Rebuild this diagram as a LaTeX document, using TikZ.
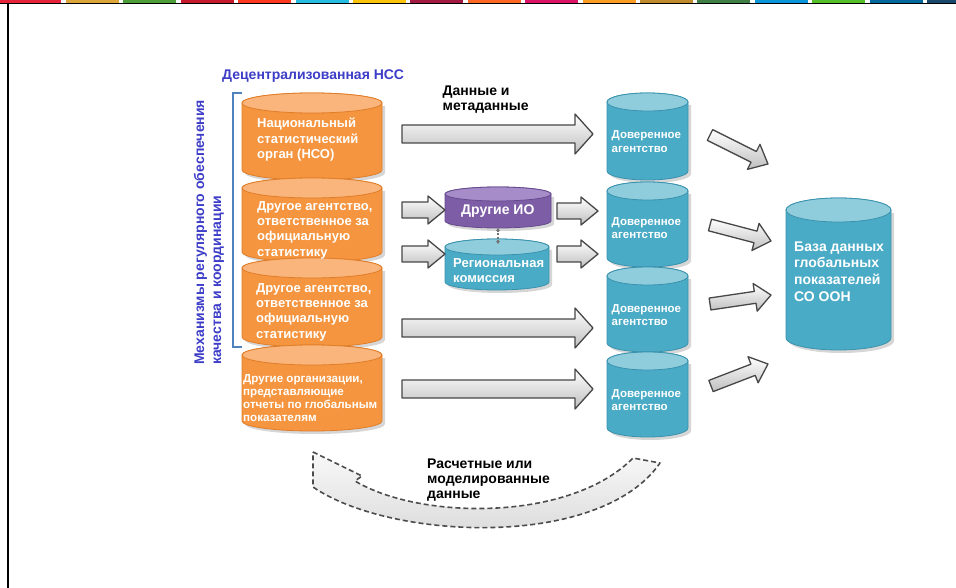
\documentclass[tikz,border=0pt]{standalone}
\usepackage{fontspec}
\setmainfont{Liberation Sans}
\usetikzlibrary{arrows.meta,calc}
\definecolor{sdgA}{HTML}{E5243B}\definecolor{sdgB}{HTML}{DDA63A}\definecolor{sdgC}{HTML}{4C9F38}
\definecolor{sdgD}{HTML}{C5192D}\definecolor{sdgE}{HTML}{FF3A21}\definecolor{sdgF}{HTML}{26BDE2}
\definecolor{sdgG}{HTML}{FCC30B}\definecolor{sdgH}{HTML}{A21942}\definecolor{sdgI}{HTML}{FD6925}
\definecolor{sdgJ}{HTML}{DD1367}\definecolor{sdgK}{HTML}{FD9D24}\definecolor{sdgL}{HTML}{BF8B2E}
\definecolor{sdgM}{HTML}{3F7E44}\definecolor{sdgN}{HTML}{0A97D9}\definecolor{sdgO}{HTML}{56C02B}
\definecolor{sdgP}{HTML}{00689D}\definecolor{sdgQ}{HTML}{19486A}
\definecolor{orb}{HTML}{F5953F}\definecolor{ort}{HTML}{F9B57C}\definecolor{orl}{HTML}{E07D28}
\definecolor{teb}{HTML}{4AABC6}\definecolor{tet}{HTML}{8FCDDD}\definecolor{tel}{HTML}{3A92AD}
\definecolor{pub}{HTML}{7E5DA7}\definecolor{put}{HTML}{A68CC8}\definecolor{pul}{HTML}{664A8E}
\definecolor{ttl}{HTML}{3D3DC8}\definecolor{brk}{HTML}{4F81BD}
\newcommand\dbcyl[8]{%
 \pgfmathsetmacro\cxl{#1}\pgfmathsetmacro\cxr{#2}%
 \pgfmathsetmacro\crx{((#2)-(#1))/2}%
 \pgfmathsetmacro\ccx{((#1)+(#2))/2}%
 \pgfmathsetmacro\cyt{-(#3)-(#5)}%
 \pgfmathsetmacro\cyb{-(#4)+(#5)}%
 \fill[black,opacity=0.16] ({\cxl+3},{\cyt-3}) -- ({\cxl+3},{\cyb-3}) arc[start angle=180,end angle=360,x radius=\crx pt,y radius=#5 pt] -- ({\cxr+3},{\cyt-3}) -- cycle;
 \filldraw[fill=#6,draw=#8,line width=0.8pt] (\cxl,\cyt) -- (\cxl,\cyb) arc[start angle=180,end angle=360,x radius=\crx pt,y radius=#5 pt] -- (\cxr,\cyt) arc[start angle=0,end angle=180,x radius=\crx pt,y radius=#5 pt] -- cycle;
 \filldraw[fill=#7,draw=#8,line width=0.8pt] (\ccx,\cyt) ellipse[x radius=\crx pt,y radius=#5 pt];
}
\newcommand\blkarrow[7]{%
 \pgfmathsetmacro\baang{atan2((#2)-(#4),(#3)-(#1))}%
 \pgfmathsetmacro\balen{veclen((#3)-(#1),(#4)-(#2))}%
 \pgfmathsetmacro\bahb{\balen-(#7)}%
 \begin{scope}[shift={(#1,-#2)},rotate=\baang]
  \path[garrow] (0,#5) -- (\bahb,#5) -- (\bahb,#6) -- (\balen,0) -- (\bahb,-#6) -- (\bahb,-#5) -- (0,-#5) -- cycle;
 \end{scope}}
\tikzset{
 garrow/.style={draw=black!72,line width=1.3pt,top color=white,bottom color=gray!50,line join=round},
 otxt/.style={text=white,font=\bfseries\fontsize{13}{15.2}\selectfont,align=left,inner sep=0pt,anchor=base west},
 otxts/.style={text=white,font=\bfseries\fontsize{11.6}{13}\selectfont,align=left,inner sep=0pt,anchor=base west},
 ttxt/.style={text=white,font=\bfseries\fontsize{11.5}{13.3}\selectfont,align=left,inner sep=0pt,anchor=base west},
 iotxt/.style={text=white,font=\bfseries\fontsize{14}{16}\selectfont,align=left,inner sep=0pt,anchor=base west},
 rtxt/.style={text=white,font=\bfseries\fontsize{13}{16}\selectfont,align=left,inner sep=0pt,anchor=base west},
 dbtxt/.style={text=white,font=\bfseries\fontsize{14}{16.5}\selectfont,align=left,inner sep=0pt,anchor=base west},
 ktxt/.style={text=black,font=\bfseries\fontsize{14}{15}\selectfont,align=left,inner sep=0pt,anchor=base west},
 ttltxt/.style={text=ttl,font=\bfseries\fontsize{14}{16}\selectfont,inner sep=0pt,anchor=base west},
 vtxt/.style={text=ttl,font=\bfseries\fontsize{14}{17}\selectfont,align=left,inner sep=0pt,anchor=base west,rotate=90},
 curvearrow/.style={draw=black!70,line width=1.6pt,dash pattern=on 5pt off 3pt,top color=gray!5,bottom color=gray!32,line join=round},
}
\begin{document}
\begin{tikzpicture}[x=1pt,y=1pt]
\useasboundingbox (0,0) rectangle (956,-588);
\fill[white] (0,0) rectangle (956,-588);
% top stripe
\fill[sdgA] (0,0) rectangle (61,-2.6);
\foreach \c [count=\i] in {sdgB,sdgC,sdgD,sdgE,sdgF,sdgG,sdgH,sdgI,sdgJ,sdgK,sdgL,sdgM,sdgN,sdgO,sdgP,sdgQ}{
  \pgfmathsetmacro\sx{66+57.4*(\i-1)}
  \pgfmathsetmacro\ex{min(\sx+53,956)}
  \fill[\c] (\sx,0) rectangle (\ex,-2.6);
}
\draw[black,line width=1.2pt] (0,-3.4) -- (956,-3.4);
\draw[black,line width=2.2pt] (8,-3) -- (8,-588);
% bracket
\draw[brk,line width=2pt] (242,-93) -- (233,-93) -- (233,-347) -- (242,-347);
% orange stack
\dbcyl{242}{382}{93}{180}{10}{orb}{ort}{orl}
\dbcyl{242}{382}{178}{262}{10}{orb}{ort}{orl}
\dbcyl{242}{382}{258}{347}{10}{orb}{ort}{orl}
\dbcyl{242}{382}{345}{431}{10}{orb}{ort}{orl}
% trusted stack
\dbcyl{607}{688}{93}{180}{9}{teb}{tet}{tel}
\dbcyl{607}{688}{182}{267}{9}{teb}{tet}{tel}
\dbcyl{607}{688}{267}{352}{9}{teb}{tet}{tel}
\dbcyl{607}{688}{352}{437}{9}{teb}{tet}{tel}
% other IO and regional commission
\dbcyl{445}{551}{187}{228}{7}{pub}{put}{pul}
\dbcyl{445}{549}{239}{290}{8}{teb}{tet}{tel}
% global database
\dbcyl{786}{891}{198}{350}{12}{teb}{tet}{tel}
% block arrows
\blkarrow{402}{134}{593}{134}{9}{20}{18}
\blkarrow{402}{210}{445}{210}{8}{14}{17}
\blkarrow{402}{254}{445}{254}{8}{14}{17}
\blkarrow{557}{211}{598}{211}{8}{14}{17}
\blkarrow{557}{254}{598}{254}{8}{14}{17}
\blkarrow{402}{328}{593}{328}{9}{20}{18}
\blkarrow{402}{389}{593}{389}{9}{20}{18}
\blkarrow{710}{135}{768}{164}{6}{14}{16}
\blkarrow{710}{225}{771}{241}{6}{14}{16}
\blkarrow{710}{304}{771}{295}{6}{14}{16}
\blkarrow{711}{386}{768}{364}{6}{14}{16}
% link between IO and regional commission
\coordinate (ioB) at (498,-228);
\coordinate (rcT) at (498,-244);
\draw[black!55,line width=1.2pt,dash pattern=on 2pt off 1.5pt,{Stealth[length=3pt,width=4pt]}-{Stealth[length=3pt,width=4pt]}] (ioB) -- (rcT);
% curved dashed arrow
\path[curvearrow] (313,-452) -- (362,-476) -- (355,-481) .. controls (420,-520) and (570,-522) .. (633,-458) -- (660,-463) .. controls (600,-550) and (390,-540) .. (313,-487) -- cycle;
% texts (base = baseline of last line)
\node[ttltxt] (title) at (222,-80) {Децентрализованная НСС};
\node[vtxt] (mech) at (221,-365) {Механизмы регулярного обеспечения\\качества и координации};
\node[otxt] (nso) at (257,-158.4) {Национальный\\статистический\\орган (НСО)};
\node[otxt] (oa1) at (257,-256.1) {Другое агентство,\\ответственное за\\официальную\\статистику};
\node[otxt] (oa2) at (256,-338.1) {Другое агентство,\\ответственное за\\официальную\\статистику};
\node[otxts] (oo) at (243,-421.5) {Другие организации,\\представляющие\\отчеты по глобальным\\показателям};
\node[ttxt] (ta1) at (611.5,-152.3) {Доверенное\\агентство};
\node[ttxt] (ta2) at (611.5,-238.3) {Доверенное\\агентство};
\node[ttxt] (ta3) at (611.5,-325.3) {Доверенное\\агентство};
\node[ttxt] (ta4) at (611.5,-410.3) {Доверенное\\агентство};
\node[iotxt] (io) at (461,-215) {Другие ИО};
\node[rtxt] (rc) at (453,-283) {Региональная\\комиссия};
\node[dbtxt] (db) at (794,-301) {База данных\\глобальных\\показателей\\СО ООН};
\node[ktxt] (dm) at (442.5,-111) {Данные и\\метаданные};
\node[ktxt] (est) at (427,-498.3) {Расчетные или\\моделированные\\данные};
\end{tikzpicture}
\end{document}
